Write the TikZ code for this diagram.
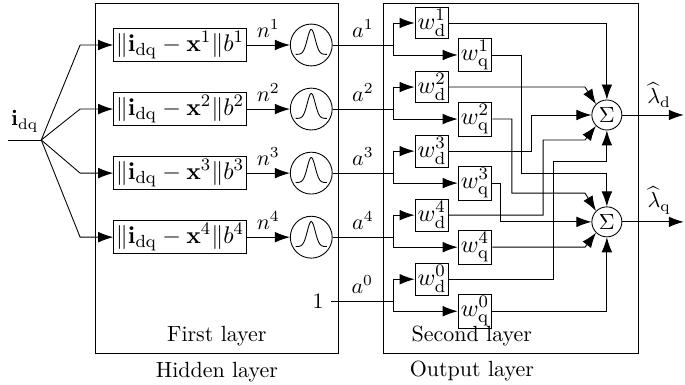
\documentclass[tikz,border=0pt]{standalone}
\usepackage{amsmath,amssymb}
\usepackage{tikz}
\usetikzlibrary{arrows.meta, positioning}
\tikzstyle{distblock} = [rectangle, draw=black, minimum width=2.05cm,
                         minimum height=0.53cm, inner sep=1pt,
                         font=\fontsize{10.95}{13}\selectfont]
\tikzstyle{rbf}       = [circle, draw=black, minimum size=0.67cm,
                         path picture={\draw[shift={(path picture bounding box.center)},
                           domain=-0.25:0.25, samples=40]
                           plot (\x, {0.4*exp(-(\x/0.09)^2)-0.15});}]
\tikzstyle{wblock}    = [rectangle, draw=black, minimum width=0.54cm,
                         minimum height=0.5cm, inner sep=1pt,
                         font=\fontsize{10.95}{13}\selectfont]
\tikzstyle{sumnode}   = [circle, draw=black, minimum size=0.48cm, inner sep=0pt]
\tikzstyle{layerbox}  = [rectangle, draw=black, minimum height=5.61cm]
\tikzstyle{arrow}     = [-{Latex[length=2.4mm,width=1.7mm]}]

\begin{document}
\begin{tikzpicture}[node distance=0.69cm]
  \useasboundingbox (0,0) rectangle (10.96,-6.16);

  % layers
  \node[layerbox, minimum width=3.9cm]  (hid)  at (3.47,-2.855) {};
  \node[layerbox, minimum width=4.09cm] (outl) at (8.175,-2.855) {};
  \node[above] (first)  at (hid.south) {First layer};
  \node[below] (hidlbl) at (hid.south) {Hidden layer};
  \node[above] (second) at (7.55,-5.66) {Second layer};
  \node[below] (outlbl) at (7.55,-5.66) {Output layer};

  % input
  \coordinate (in)    at (0.13,-2.24);
  \coordinate (split) at (0.66,-2.24);
  \draw (in) -- node[above] {$\mathbf{i}_\mathrm{dq}$} (split);

  % hidden neurons
  \node[distblock] (d1) at (2.88,-0.72)  {$\|\mathbf{i}_\mathrm{dq}-\mathbf{x}^1\|b^1$};
  \node[distblock] (d2) at (2.88,-1.745) {$\|\mathbf{i}_\mathrm{dq}-\mathbf{x}^2\|b^2$};
  \node[distblock] (d3) at (2.88,-2.77)  {$\|\mathbf{i}_\mathrm{dq}-\mathbf{x}^3\|b^3$};
  \node[distblock] (d4) at (2.88,-3.795) {$\|\mathbf{i}_\mathrm{dq}-\mathbf{x}^4\|b^4$};
  \node[rbf, right=of d1] (g1) {};
  \node[rbf, right=of d2] (g2) {};
  \node[rbf, right=of d3] (g3) {};
  \node[rbf, right=of d4] (g4) {};
  \node (one) at (5.09,-4.82) {$1$};

  \draw[arrow] (split) -- ([xshift=-0.53cm]d1.west) -- (d1);
  \draw[arrow] (split) -- ([xshift=-0.53cm]d2.west) -- (d2);
  \draw[arrow] (split) -- ([xshift=-0.53cm]d3.west) -- (d3);
  \draw[arrow] (split) -- ([xshift=-0.53cm]d4.west) -- (d4);
  \draw[arrow] (d1) -- node[above] {$n^1$} (g1);
  \draw[arrow] (d2) -- node[above] {$n^2$} (g2);
  \draw[arrow] (d3) -- node[above] {$n^3$} (g3);
  \draw[arrow] (d4) -- node[above] {$n^4$} (g4);

  % output weights
  \coordinate (j1) at (6.29,-0.72);
  \coordinate (j2) at (6.29,-1.745);
  \coordinate (j3) at (6.29,-2.77);
  \coordinate (j4) at (6.29,-3.795);
  \coordinate (j0) at (6.29,-4.82);
  \draw (g1)  -- node[above] {$a^1$} (j1);
  \draw (g2)  -- node[above] {$a^2$} (j2);
  \draw (g3)  -- node[above] {$a^3$} (j3);
  \draw (g4)  -- node[above] {$a^4$} (j4);
  \draw (one) -- node[above] {$a^0$} (j0);

  \node[wblock] (wd1) at (6.91,-0.368) {$w^1_\mathrm{d}$};
  \node[wblock] (wq1) at (7.6,-0.88)   {$w^1_\mathrm{q}$};
  \node[wblock] (wd2) at (6.91,-1.393) {$w^2_\mathrm{d}$};
  \node[wblock] (wq2) at (7.6,-1.905)  {$w^2_\mathrm{q}$};
  \node[wblock] (wd3) at (6.91,-2.418) {$w^3_\mathrm{d}$};
  \node[wblock] (wq3) at (7.6,-2.93)   {$w^3_\mathrm{q}$};
  \node[wblock] (wd4) at (6.91,-3.443) {$w^4_\mathrm{d}$};
  \node[wblock] (wq4) at (7.6,-3.955)  {$w^4_\mathrm{q}$};
  \node[wblock] (wd0) at (6.91,-4.468) {$w^0_\mathrm{d}$};
  \node[wblock] (wq0) at (7.6,-4.98)   {$w^0_\mathrm{q}$};

  \draw[arrow] (j1) |- (wd1);
  \draw[arrow] (j1) |- (wq1);
  \draw[arrow] (j2) |- (wd2);
  \draw[arrow] (j2) |- (wq2);
  \draw[arrow] (j3) |- (wd3);
  \draw[arrow] (j3) |- (wq3);
  \draw[arrow] (j4) |- (wd4);
  \draw[arrow] (j4) |- (wq4);
  \draw[arrow] (j0) |- (wd0);
  \draw[arrow] (j0) |- (wq0);

  % summing nodes
  \node[sumnode] (sd) at (9.71,-1.84) {$\Sigma$};
  \node[sumnode] (sq) at (9.71,-3.55) {$\Sigma$};

  \draw[arrow] (wd1) -| (sd);
  \draw[arrow] (wd2) -- (9.36,-1.393) -- (sd.135);
  \draw[arrow] (wd3) -| (8.51,-1.84) -- (sd);
  \draw[arrow] (wd4) -| (8.69,-2.24) -- (9.36,-2.24) -- (sd.225);
  \draw[arrow] (wd0) -| (8.85,-2.59) -| (sd);

  \draw[arrow] (wq1) -| (8.35,-2.77) -| (sq);
  \draw[arrow] (wq2) -| (8.19,-3.09) -- (9.36,-3.09) -- (sq.135);
  \draw[arrow] (wq3) -| (8.0,-3.55) -- (sq);
  \draw[arrow] (wq4) -- (9.36,-3.955) -- (sq.225);
  \draw[arrow] (wq0) -| (sq);

  % outputs
  \coordinate (outd) at (10.94,-1.84);
  \coordinate (outq) at (10.94,-3.55);
  \draw[arrow] (sd) -- node[above, pos=0.6] {$\widehat{\lambda}_\mathrm{d}$} (outd);
  \draw[arrow] (sq) -- node[above, pos=0.6] {$\widehat{\lambda}_\mathrm{q}$} (outq);
\end{tikzpicture}
\end{document}
